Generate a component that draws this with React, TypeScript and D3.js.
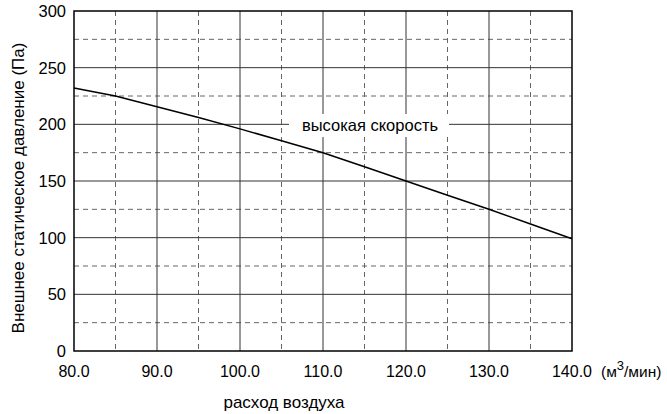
import React from "react";
import * as d3 from "d3";

const xTicks = [80, 90, 100, 110, 120, 130, 140];
const xMinor = [85, 95, 105, 115, 125, 135];
const yTicks = [0, 50, 100, 150, 200, 250, 300];
const yMinor = [25, 75, 125, 175, 225, 275];
const flowValues = [80, 85, 90, 95, 100, 105, 110, 115, 120, 125, 130, 135, 140];
const pressureValues = [232, 225, 215.5, 206, 196, 185.5, 175, 162.5, 150, 137.5, 125, 112, 99];
const seriesLabel = "высокая скорость";
const xTitle = "расход воздуха";
const yTitle = "Внешнее статическое давление (Па)";

export default function App() {
  const W = 667, H = 414;
  const left = 74, right = 572, top = 11, bottom = 351;
  const x = d3.scaleLinear().domain([80, 140]).range([left, right]);
  const y = d3.scaleLinear().domain([0, 300]).range([bottom, top]);
  const line = d3.line<number>().x((_, i) => x(flowValues[i])).y((d) => y(d));
  const font = "'Liberation Sans', Arial, sans-serif";
  return (
    <svg width={W} height={H} style={{ position: "absolute", left: 0, top: 0 }} fontFamily={font}>
      <rect width={W} height={H} fill="#fff" />
      {xMinor.map((v) => (
        <line key={"xm" + v} x1={x(v)} x2={x(v)} y1={top} y2={bottom} stroke="#666" strokeWidth={1} strokeDasharray="5,4" />
      ))}
      {yMinor.map((v) => (
        <line key={"ym" + v} x1={left} x2={right} y1={y(v)} y2={y(v)} stroke="#666" strokeWidth={1} strokeDasharray="5,4" />
      ))}
      {xTicks.slice(1, -1).map((v) => (
        <line key={"xg" + v} x1={x(v)} x2={x(v)} y1={top} y2={bottom} stroke="#333" strokeWidth={1} />
      ))}
      {yTicks.slice(1, -1).map((v) => (
        <line key={"yg" + v} x1={left} x2={right} y1={y(v)} y2={y(v)} stroke="#333" strokeWidth={1} />
      ))}
      <rect x={left} y={top} width={right - left} height={bottom - top} fill="none" stroke="#000" strokeWidth={1.5} />
      <path d={line(pressureValues) || ""} fill="none" stroke="#000" strokeWidth={1.5} />
      <rect x={289} y={114} width={160} height={23} fill="#fff" />
      <text x={370} y={131} fontSize={16.5} textAnchor="middle">{seriesLabel}</text>
      {yTicks.map((v) => (
        <text key={"yt" + v} x={66} y={y(v) + 6} fontSize={16.5} textAnchor="end">{v}</text>
      ))}
      {xTicks.map((v) => (
        <text key={"xt" + v} x={x(v)} y={377} fontSize={16} textAnchor="middle">{v.toFixed(1)}</text>
      ))}
      <text x={601} y={377} fontSize={15.5}>
        (м<tspan dy={-7} fontSize={13}>3</tspan><tspan dy={7}>/мин)</tspan>
      </text>
      <text x={284} y={408} fontSize={17} textAnchor="middle">{xTitle}</text>
      <text transform={`translate(24,188) rotate(-90)`} fontSize={17} textAnchor="middle">{yTitle}</text>
    </svg>
  );
}
